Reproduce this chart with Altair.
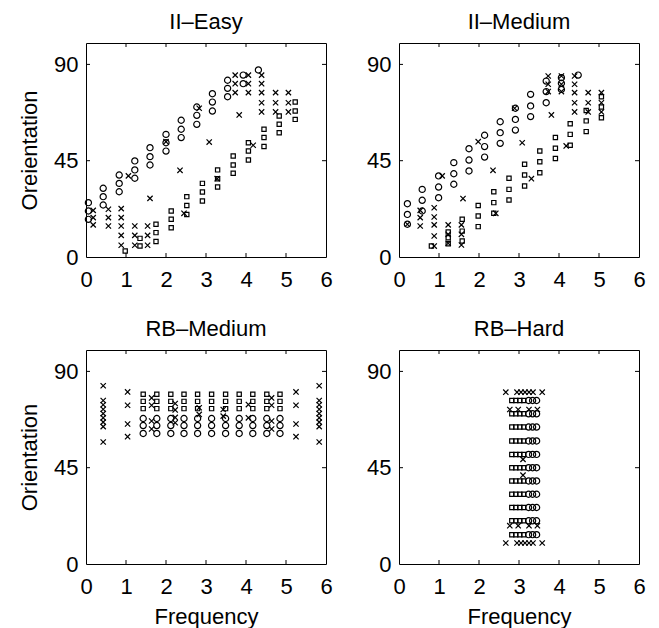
import altair as alt
import pandas as pd

# ---------------- data ----------------
X_TICKS = [0, 1, 2, 3, 4, 5, 6]
Y_TICKS = [0, 45, 90]
X_INNER_TICKS = [1, 2, 3, 4, 5]
Y_INNER_TICKS = [45, 90]

PANEL_TITLES = ["II\u2013Easy", "II\u2013Medium", "RB\u2013Medium", "RB\u2013Hard"]

EASY_CIRCLES = [
    (0.06, 25.4), (0.06, 21.5), (0.06, 17.6),
    (0.43, 32.1), (0.43, 28.2), (0.43, 24.3),
    (0.83, 38.3), (0.83, 34.4), (0.83, 30.5),
    (1.22, 44.9), (1.22, 40.7), (1.22, 36.8),
    (1.60, 51.1), (1.60, 46.9), (1.60, 43.0),
    (2.00, 57.3), (2.00, 53.4), (2.00, 49.5),
    (2.38, 63.9), (2.38, 59.7), (2.38, 55.8),
    (2.77, 70.1), (2.77, 66.2), (2.77, 62.0),
    (3.16, 76.3), (3.16, 72.4), (3.16, 68.2),
    (3.54, 82.6), (3.54, 78.8), (3.54, 74.9),
    (3.93, 85.0), (3.93, 81.0),
    (4.31, 87.4),
]
EASY_CROSSES = [
    (0.18, 21.8), (0.18, 18.4), (0.18, 15.0),
    (0.56, 22.3), (0.56, 18.4), (0.56, 14.5),
    (0.88, 22.6), (0.88, 18.4), (0.88, 14.5), (0.88, 10.1), (0.88, 5.5),
    (1.06, 37.9),
    (1.22, 14.5), (1.22, 10.1), (1.22, 5.5),
    (1.54, 14.5), (1.54, 10.1), (1.54, 5.5),
    (1.60, 27.4), (2.00, 53.9), (2.35, 40.5), (2.45, 20.4), (2.83, 69.5),
    (3.08, 53.7), (3.28, 36.6),
    (3.73, 85.0), (3.73, 81.0), (3.73, 76.8), (3.83, 66.4),
    (4.06, 85.0), (4.06, 81.0), (4.06, 76.8), (4.18, 52.2),
    (4.39, 85.0), (4.39, 81.0), (4.39, 76.8), (4.39, 72.1), (4.39, 67.8),
    (4.74, 76.8), (4.74, 72.1), (4.74, 67.8),
    (5.06, 76.8), (5.06, 72.1), (5.06, 67.8),
]
EASY_SQUARES = [
    (0.98, 2.8),
    (1.35, 8.7), (1.35, 5.1),
    (1.75, 15.3), (1.75, 11.4), (1.75, 7.2),
    (2.13, 21.5), (2.13, 17.6), (2.13, 13.7),
    (2.52, 28.2), (2.52, 24.1), (2.52, 19.9),
    (2.91, 34.4), (2.91, 30.4), (2.91, 26.2),
    (3.29, 40.7), (3.29, 36.6), (3.29, 32.7),
    (3.68, 47.2), (3.68, 43.0), (3.68, 39.1),
    (4.06, 53.4), (4.06, 49.5), (4.06, 45.3),
    (4.45, 59.7), (4.45, 55.8), (4.45, 51.6),
    (4.83, 65.9), (4.83, 62.0), (4.83, 58.1),
    (5.23, 72.4), (5.23, 68.2), (5.23, 64.3),
]

MED_CIRCLES = [
    (0.21, 24.9), (0.21, 19.9), (0.21, 15.3),
    (0.58, 31.6), (0.58, 26.5), (0.58, 21.5),
    (0.99, 37.9), (0.99, 32.7), (0.99, 27.7),
    (1.37, 44.1), (1.37, 38.9), (1.37, 34.0),
    (1.75, 50.6), (1.75, 45.3), (1.75, 40.2),
    (2.14, 56.9), (2.14, 51.6), (2.14, 46.7),
    (2.53, 63.2), (2.53, 58.1), (2.53, 53.1),
    (2.91, 69.5), (2.91, 64.3), (2.91, 59.3),
    (3.29, 76.0), (3.29, 70.6), (3.29, 65.6),
    (3.68, 82.2), (3.68, 77.3), (3.68, 72.1),
    (4.06, 83.8), (4.06, 81.2), (4.06, 78.3),
    (4.48, 85.0),
]
MED_CROSSES = [
    (0.21, 15.3),
    (0.53, 21.8), (0.53, 18.4), (0.53, 14.5),
    (0.88, 23.0), (0.88, 18.7), (0.88, 15.0), (0.88, 9.8), (0.88, 5.1),
    (1.08, 37.9),
    (1.23, 15.0), (1.23, 10.6), (1.23, 6.4),
    (1.56, 15.0), (1.56, 10.6), (1.56, 5.6),
    (1.60, 27.3), (1.98, 53.9), (2.35, 40.5), (2.42, 20.4), (2.89, 69.5),
    (3.08, 53.4), (3.31, 36.6),
    (3.73, 84.6), (3.73, 80.7), (3.73, 77.3), (3.81, 66.4),
    (4.06, 84.6), (4.06, 80.7), (4.06, 77.3), (4.18, 51.9),
    (4.39, 84.6), (4.39, 80.7), (4.39, 76.8), (4.39, 72.1), (4.39, 67.8),
    (4.73, 76.8), (4.73, 72.1), (4.73, 67.8),
    (5.06, 76.8), (5.06, 72.1), (5.06, 67.8),
]
MED_SQUARES = [
    (0.81, 5.1),
    (1.23, 11.7), (1.23, 9.0), (1.23, 6.2),
    (1.58, 17.6), (1.58, 12.1), (1.58, 7.5),
    (1.98, 24.1), (1.98, 19.2), (1.98, 14.2),
    (2.37, 30.5), (2.37, 25.4), (2.37, 20.4),
    (2.75, 36.8), (2.75, 31.6), (2.75, 26.6),
    (3.14, 43.3), (3.14, 38.3), (3.14, 33.2),
    (3.52, 49.5), (3.52, 44.5), (3.52, 39.4),
    (3.91, 55.8), (3.91, 50.8), (3.91, 46.0),
    (4.28, 62.3), (4.28, 57.3), (4.28, 52.2),
    (4.68, 68.5), (4.68, 63.6), (4.68, 58.6),
    (5.06, 74.9), (5.06, 70.1), (5.06, 65.1),
]

# RB-Medium: columns of squares (upper) and circles (lower)
RBM_COLUMNS = [1.43, 1.77, 2.12, 2.45, 2.79, 3.14, 3.49, 3.83, 4.17, 4.52, 4.85]
RBM_SQUARE_ROWS = [79.3, 76.0, 72.6]
RBM_CIRCLE_ROWS = [68.0, 64.7, 61.0]
RBM_CROSSES = [
    (0.43, 83.3), (0.43, 76.4), (0.43, 74.4), (0.43, 72.3), (0.43, 70.3),
    (0.43, 68.3), (0.43, 66.3), (0.43, 64.2), (0.43, 57.0),
    (1.04, 80.4), (1.04, 74.2), (1.04, 65.4), (1.04, 59.5),
    (1.64, 77.6), (1.64, 74.2), (1.64, 66.8), (1.64, 63.1),
    (2.23, 75.0), (2.23, 72.0), (2.23, 68.5), (2.23, 66.0),
    (2.83, 73.0), (2.83, 69.9),
    (3.43, 72.2), (3.43, 69.1),
    (4.06, 74.5), (4.06, 68.3),
    (4.64, 77.6), (4.64, 74.2), (4.64, 66.8), (4.64, 63.1),
    (5.25, 80.4), (5.25, 74.2), (5.25, 65.4), (5.25, 59.5),
    (5.83, 83.3), (5.83, 76.4), (5.83, 74.4), (5.83, 72.3), (5.83, 70.3),
    (5.83, 68.3), (5.83, 66.3), (5.83, 64.2), (5.83, 57.0),
]

# RB-Hard: rows of squares (left) and circles (right)
RBH_ROWS = [76.4, 70.2, 64.0, 57.5, 51.2, 45.0, 38.8, 32.6, 26.4, 20.2, 13.7]
RBH_SQUARE_COLS = [2.82, 2.92, 3.02, 3.12]
RBH_CIRCLE_COLS = [3.24, 3.34, 3.44]
RBH_CROSSES = [
    (2.67, 80.3), (2.95, 80.3), (3.05, 80.3), (3.15, 80.3), (3.25, 80.3), (3.35, 80.3), (3.58, 80.3),
    (2.77, 72.2), (2.98, 72.2), (3.25, 72.2), (3.46, 72.2),
    (3.10, 48.9), (3.10, 41.5),
    (2.77, 17.9), (2.98, 17.9), (3.25, 17.9), (3.46, 17.9),
    (2.67, 9.8), (2.95, 9.8), (3.05, 9.8), (3.15, 9.8), (3.25, 9.8), (3.35, 9.8), (3.58, 9.8),
]

# ---------------- styling ----------------
W, H = 240, 214
FONT = "Liberation Sans"
FS = 22
TICK = 4
MARKERS = ["circle", "cross", "square"]
SHAPES = ["circle", "M-1,-1L1,1M-1,1L1,-1", "square"]
SIZES = [38, 18, 30]


def grid(xs, ys):
    return [(x, y) for x in xs for y in ys]


def panel(title, circles, crosses, squares, ytitle, xtitle):
    rows = ([{"f": x, "o": y, "m": "circle"} for x, y in circles]
            + [{"f": x, "o": y, "m": "square"} for x, y in squares]
            + [{"f": x, "o": y, "m": "cross"} for x, y in crosses])
    df = pd.DataFrame(rows)
    xs = alt.Scale(domain=[0, 6], nice=False, zero=False)
    ys = alt.Scale(domain=[0, 100], nice=False, zero=False)
    xaxis = alt.Axis(values=X_TICKS, format="d", ticks=False, domain=False, grid=False,
                     labelFont=FONT, labelFontSize=FS, labelColor="black", labelPadding=12,
                     titleFont=FONT, titleFontSize=FS, titleFontWeight="normal",
                     titleColor="black", titlePadding=9, labelFlush=False)
    yaxis = alt.Axis(values=Y_TICKS, format="d", ticks=False, domain=False, grid=False,
                     labelFont=FONT, labelFontSize=FS, labelColor="black", labelPadding=8,
                     titleFont=FONT, titleFontSize=FS, titleFontWeight="normal",
                     titleColor="black", titlePadding=12, labelFlush=False)
    pts = alt.Chart(df).mark_point(filled=False, color="black", strokeWidth=1.2, opacity=1).encode(
        x=alt.X("f:Q", scale=xs, axis=xaxis, title=xtitle),
        y=alt.Y("o:Q", scale=ys, axis=yaxis, title=ytitle),
        shape=alt.Shape("m:N", scale=alt.Scale(domain=MARKERS, range=SHAPES), legend=None),
        size=alt.Size("m:N", scale=alt.Scale(domain=MARKERS, range=SIZES), legend=None),
    )
    xt = pd.DataFrame({"f": X_INNER_TICKS})
    yt = pd.DataFrame({"o": Y_INNER_TICKS})
    rule = dict(color="black", strokeWidth=1)
    bx = alt.Chart(xt).mark_rule(**rule).encode(
        x=alt.X("f:Q", scale=xs, axis=xaxis, title=xtitle), y=alt.value(H), y2=alt.value(H - TICK))
    tx = alt.Chart(xt).mark_rule(**rule).encode(
        x=alt.X("f:Q", scale=xs, axis=xaxis, title=xtitle), y=alt.value(0), y2=alt.value(TICK))
    ly = alt.Chart(yt).mark_rule(**rule).encode(
        y=alt.Y("o:Q", scale=ys, axis=yaxis, title=ytitle), x=alt.value(0), x2=alt.value(TICK))
    ry = alt.Chart(yt).mark_rule(**rule).encode(
        y=alt.Y("o:Q", scale=ys, axis=yaxis, title=ytitle), x=alt.value(W), x2=alt.value(W - TICK))
    return alt.layer(pts, bx, tx, ly, ry).properties(
        width=W, height=H,
        title=alt.TitleParams(title, font=FONT, fontSize=FS, fontWeight="normal",
                              color="black", baseline="alphabetic", offset=-8),
    )


p1 = panel(PANEL_TITLES[0], EASY_CIRCLES, EASY_CROSSES, EASY_SQUARES, "Oreientation", None)
p2 = panel(PANEL_TITLES[1], MED_CIRCLES, MED_CROSSES, MED_SQUARES, None, None)
p3 = panel(PANEL_TITLES[2], grid(RBM_COLUMNS, RBM_CIRCLE_ROWS), RBM_CROSSES,
           grid(RBM_COLUMNS, RBM_SQUARE_ROWS), "Orientation", "Frequency")
p4 = panel(PANEL_TITLES[3], grid(RBH_CIRCLE_COLS, RBH_ROWS), RBH_CROSSES,
           grid(RBH_SQUARE_COLS, RBH_ROWS), None, "Frequency")

top = alt.hconcat(p1, p2, spacing=33)
bottom = alt.hconcat(p3, p4, spacing=33)
chart = alt.vconcat(top, bottom, spacing=26).properties(
    padding={"left": 18, "top": 10, "right": 5, "bottom": 5},
    background="white",
).configure_view(stroke="black", strokeWidth=1)

chart.save("out.html", embed_options={"renderer": "svg", "actions": False})
